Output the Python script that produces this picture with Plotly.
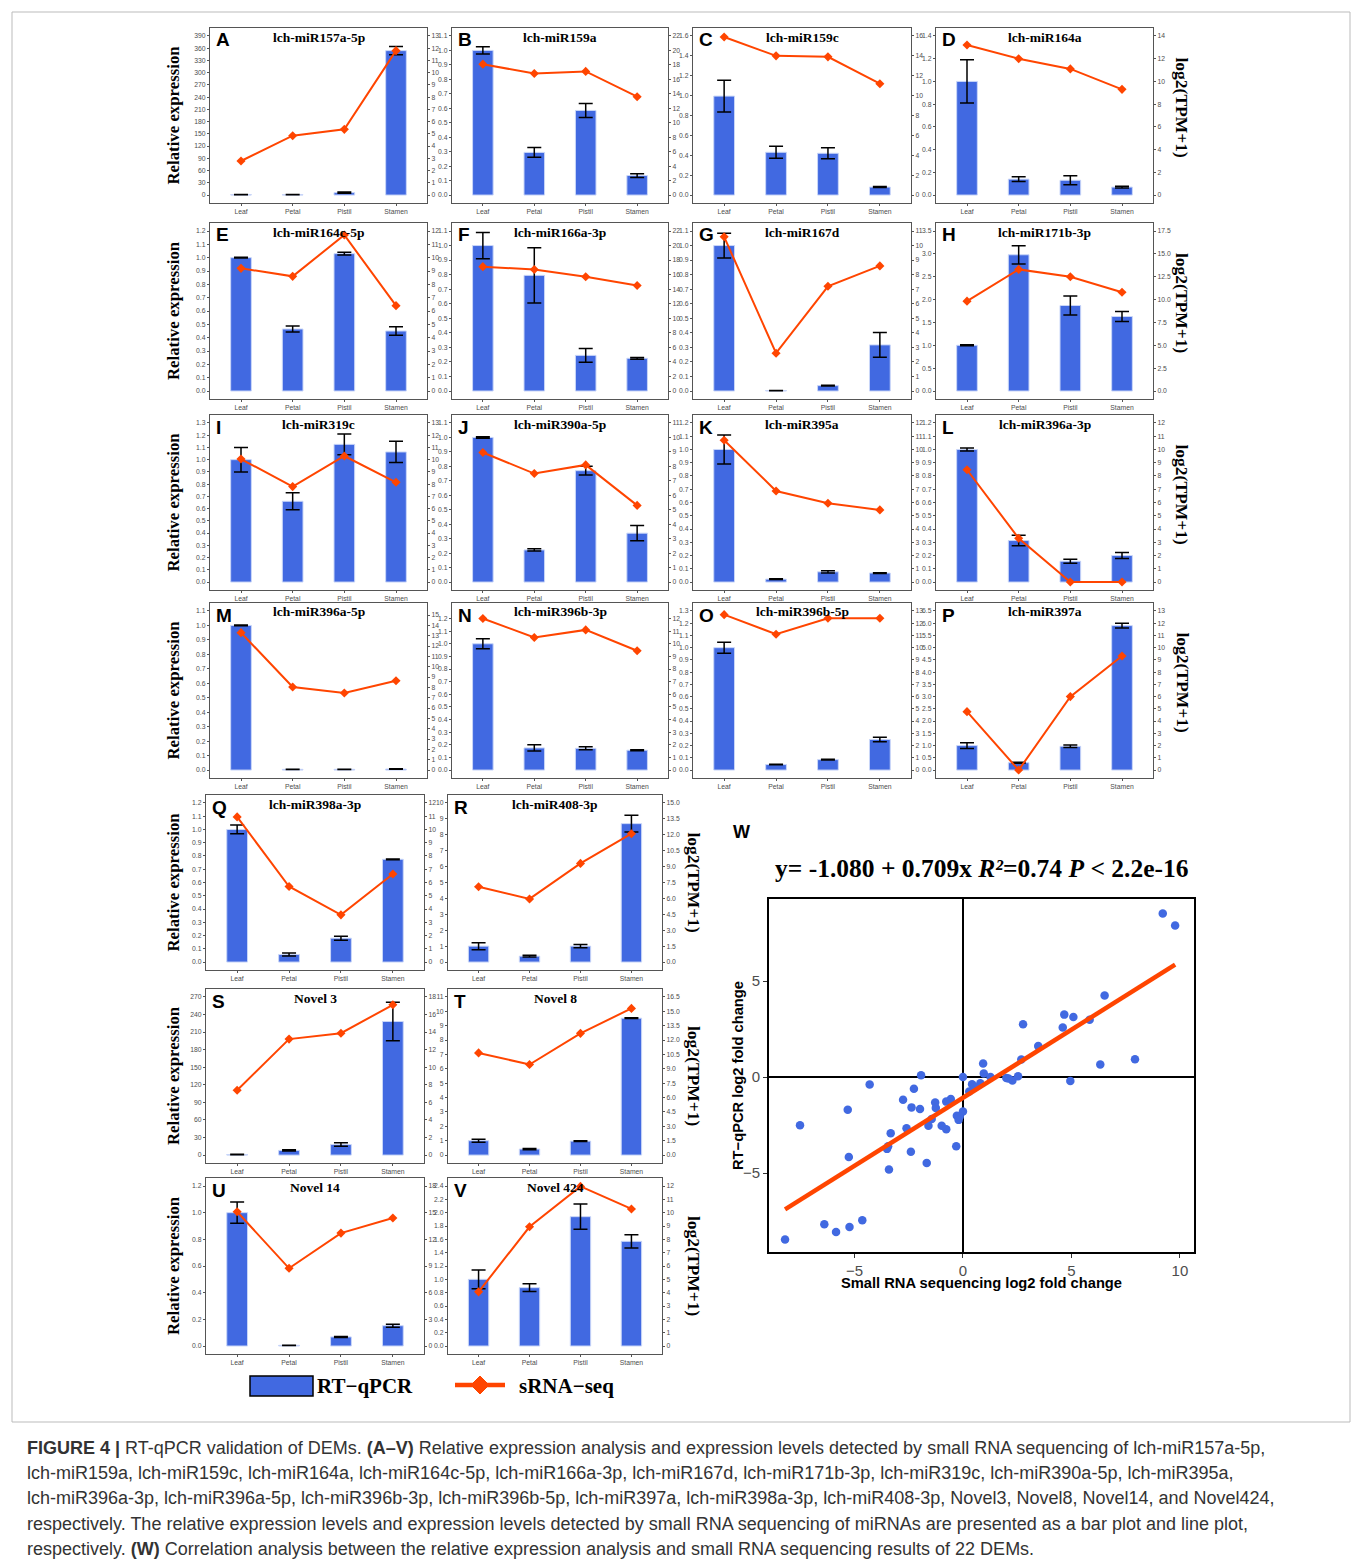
import numpy as np
import plotly.graph_objects as go

FIG_W, FIG_H = 1360, 1564


def px(x):
    return x / FIG_W


def py(y):
    return 1 - y / FIG_H


# ---------------------------------------------------------------- data
tissues = ["Leaf", "Petal", "Pistil", "Stamen"]

panel_letters = list("ABCDEFGHIJKLMNOPQRSTUV")
panel_titles = ["lch-miR157a-5p", "lch-miR159a", "lch-miR159c", "lch-miR164a",
                "lch-miR164c-5p", "lch-miR166a-3p", "lch-miR167d", "lch-miR171b-3p",
                "lch-miR319c", "lch-miR390a-5p", "lch-miR395a", "lch-miR396a-3p",
                "lch-miR396a-5p", "lch-miR396b-3p", "lch-miR396b-5p", "lch-miR397a",
                "lch-miR398a-3p", "lch-miR408-3p", "Novel 3", "Novel 8", "Novel 14", "Novel 424"]

# RT-qPCR relative expression (bars) and error bars
rtqpcr_mean = [
    [1.0, 1.0, 6.0, 354.0],
    [1.0, 0.295, 0.585, 0.135],
    [0.995, 0.43, 0.42, 0.08],
    [1.0, 0.14, 0.13, 0.07],
    [1.0, 0.465, 1.03, 0.45],
    [1.0, 0.795, 0.245, 0.225],
    [1.0, 0.003, 0.037, 0.317],
    [1.0, 2.98, 1.87, 1.63],
    [1.0, 0.66, 1.125, 1.063],
    [1.0, 0.222, 0.77, 0.338],
    [1.0, 0.022, 0.077, 0.068],
    [1.0, 0.313, 0.157, 0.20],
    [1.0, 0.005, 0.005, 0.007],
    [1.0, 0.175, 0.172, 0.157],
    [1.0, 0.045, 0.085, 0.25],
    [1.0, 0.30, 0.97, 5.9],
    [1.0, 0.057, 0.18, 0.775],
    [1.0, 0.37, 1.0, 8.7],
    [1.0, 8.0, 18.0, 228.0],
    [1.0, 0.42, 0.97, 9.52],
    [1.0, 0.005, 0.068, 0.152],
    [1.0, 0.875, 1.94, 1.57],
]
rtqpcr_err = [
    [0.5, 0.5, 1.5, 10.0],
    [0.025, 0.033, 0.048, 0.013],
    [0.16, 0.06, 0.055, 0.005],
    [0.19, 0.02, 0.04, 0.007],
    [0.003, 0.022, 0.01, 0.032],
    [0.09, 0.19, 0.048, 0.006],
    [0.085, 0.001, 0.002, 0.085],
    [0.01, 0.2, 0.21, 0.11],
    [0.1, 0.07, 0.085, 0.087],
    [0.005, 0.008, 0.03, 0.053],
    [0.11, 0.003, 0.008, 0.003],
    [0.012, 0.04, 0.015, 0.022],
    [0.003, 0.001, 0.001, 0.002],
    [0.04, 0.025, 0.012, 0.004],
    [0.045, 0.002, 0.003, 0.018],
    [0.12, 0.02, 0.05, 0.1],
    [0.033, 0.012, 0.015, 0.003],
    [0.22, 0.06, 0.1, 0.52],
    [0.5, 1.0, 3.0, 33.0],
    [0.1, 0.04, 0.02, 0.03],
    [0.08, 0.001, 0.004, 0.012],
    [0.14, 0.058, 0.19, 0.1],
]
# sRNA-seq log2(TPM+1) (lines)
srnaseq_log2tpm = [
    [2.78, 4.85, 5.37, 11.8],
    [18.1, 16.8, 17.1, 13.6],
    [15.9, 14.0, 13.9, 11.2],
    [13.2, 12.0, 11.1, 9.3],
    [9.2, 8.6, 11.7, 6.4],
    [17.1, 16.7, 15.7, 14.5],
    [10.6, 2.6, 7.2, 8.6],
    [9.83, 13.3, 12.5, 10.8],
    [10.05, 7.8, 10.3, 8.15],
    [8.96, 7.5, 8.1, 5.3],
    [10.7, 6.87, 5.94, 5.44],
    [8.47, 3.3, 0.0, 0.0],
    [13.3, 8.04, 7.46, 8.65],
    [12.0, 10.5, 11.1, 9.45],
    [12.7, 11.1, 12.4, 12.4],
    [4.77, 0.0, 6.0, 9.32],
    [10.95, 5.7, 3.56, 6.64],
    [7.1, 5.95, 9.3, 12.1],
    [7.37, 13.2, 13.87, 17.1],
    [10.66, 9.45, 12.7, 15.3],
    [15.1, 8.74, 12.7, 14.4],
    [4.06, 8.94, 11.97, 10.28],
]

# axis tick definitions
left_tick_top = [390, 1.1, 1.6, 1.4, 1.2, 1.1, 1.1, 3.5, 1.3, 1.1, 1.2, 1.2,
                 1.1, 1.2, 1.3, 6.5, 1.2, 10, 270, 11, 1.2, 2.4]
left_tick_step = [30, 0.1, 0.2, 0.2, 0.1, 0.1, 0.1, 0.5, 0.1, 0.1, 0.1, 0.1,
                  0.1, 0.1, 0.1, 0.5, 0.1, 1, 30, 1, 0.2, 0.2]
left_range_max = [390, 1.1, 1.6, 1.4, 1.2, 1.1, 1.1, 3.5, 1.3, 1.1, 1.2, 1.2,
                  1.1, 1.26, 1.3, 6.5, 1.2, 10, 270, 11, 1.2, 2.4]
right_tick_top = [13, 22, 16, 14, 12, 22, 11, 17.5, 13, 11, 12, 12,
                  15, 12, 13, 13, 12, 15, 18, 16.5, 18, 12]
right_tick_step = [1, 2, 2, 2, 1, 2, 1, 2.5, 1, 1, 1, 1,
                   1, 1, 1, 1, 1, 1.5, 2, 1.5, 3, 1]
right_per_left = [1 / 30, 20, 10, 10, 10, 20, 10, 5, 10, 10, 10, 10,
                  14, 10, 10, 2, 10, 1.5, 1 / 15, 1.5, 15, 5]

# panel W: log2 fold changes
scatter_x = [9.21, 9.78, 6.53, 4.67, 5.09, 5.84, 4.60, 2.77, 3.47, 2.69, 7.93, 6.33,
             0.93, 0.96, 1.27, 2.00, 2.28, 2.54, 4.95, 0.00, 0.80, 0.42, 0.29, 0.00,
             -0.28, -0.20, -0.31, -0.56, -0.77, -1.28, -1.25, -0.98, -0.77, -1.44,
             -1.59, -1.98, -1.93, -2.26, -2.37, -2.76, -2.60, -2.40, -1.67, -3.33,
             -3.50, -3.41, -4.30, -5.31, -5.26, -7.51, -4.64, -5.23, -5.85, -6.39,
             -8.20, -0.15, 2.10, -3.45, 0.55]
scatter_y = [8.51, 7.89, 4.25, 3.25, 3.12, 2.98, 2.58, 2.75, 1.61, 0.91, 0.93, 0.65,
             0.70, 0.18, 0.00, -0.05, -0.18, 0.04, -0.21, 0.00, -0.32, -0.37, -0.75,
             -1.79, -2.02, -2.23, -3.60, -1.14, -1.28, -1.32, -1.61, -2.54, -2.72,
             -2.19, -2.54, -1.67, 0.09, -0.61, -1.58, -1.18, -2.67, -3.89, -4.47,
             -2.93, -3.74, -4.82, -0.39, -1.70, -4.16, -2.51, -7.46, -7.81, -8.07,
             -7.67, -8.46, -2.05, -0.08, -3.60, -0.55]
fit_intercept = -1.080
fit_slope = 0.709
w_xticks = [-5, 0, 5, 10]
w_yticks = [-5, 0, 5]

# ---------------------------------------------------------------- geometry / style
col_x_top = [(210, 427), (452, 668), (693, 911), (936, 1153)]
col_x_low = [(206, 424), (448, 662)]
row_y = [(28, 203), (223, 399), (415, 590), (603, 778), (795, 970), (989, 1163), (1178, 1354)]

BLUE = "#4169E1"
ORANGE = "#FF4500"
AXC = "#555555"
SANS = "Liberation Sans, Arial, sans-serif"
SERIF = "Liberation Serif, Times New Roman, serif"
tick_font = dict(family=SANS, size=6.8, color="#4d4d4d")


def panel_box(i):
    if i < 16:
        r, c = divmod(i, 4)
        x0, x1 = col_x_top[c]
    else:
        r, c = divmod(i - 16, 2)
        r += 4
        x0, x1 = col_x_low[c]
    y0, y1 = row_y[r]
    return x0, x1, y0, y1


def ticks(top, step):
    vals = [round(v, 6) for v in np.arange(0, top + step / 2, step)]
    if float(step).is_integer():
        txt = ["%d" % round(v) for v in vals]
    else:
        txt = ["%.1f" % v for v in vals]
    return vals, txt


fig = go.Figure()
layout = {}
annotations = []
shapes = []

for i in range(22):
    x0, x1, y0, y1 = panel_box(i)
    n = i + 1
    xa = "x" if n == 1 else f"x{n}"
    ya = "y" if n == 1 else f"y{n}"
    m2 = 23 + i
    ya2 = f"y{m2}"
    top = left_range_max[i]
    lrange = [-0.05 * top, 1.05 * top]
    rrange = [v * right_per_left[i] for v in lrange]

    fig.add_trace(go.Bar(
        x=tissues, y=rtqpcr_mean[i],
        error_y=dict(type="data", array=rtqpcr_err[i], visible=True, color="black",
                     thickness=1.5, width=7),
        width=0.4, marker=dict(color=BLUE, line=dict(color="#c9d6f8", width=1)),
        xaxis=xa, yaxis=ya, showlegend=False))
    fig.add_trace(go.Scatter(
        x=tissues, y=srnaseq_log2tpm[i], mode="lines+markers",
        line=dict(color=ORANGE, width=2),
        marker=dict(symbol="diamond", size=7, color=ORANGE),
        xaxis=xa, yaxis=ya2, showlegend=False, cliponaxis=False))

    lv, lt = ticks(left_tick_top[i], left_tick_step[i])
    rv, rt = ticks(right_tick_top[i], right_tick_step[i])
    layout["xaxis" if n == 1 else f"xaxis{n}"] = dict(
        domain=[px(x0), px(x1)], anchor=ya, type="category", range=[-0.6, 3.6],
        showline=True, mirror=True, linecolor=AXC, linewidth=1.2,
        ticks="outside", ticklen=2, tickcolor=AXC, tickfont=tick_font,
        showgrid=False, zeroline=False)
    layout["yaxis" if n == 1 else f"yaxis{n}"] = dict(
        domain=[py(y1), py(y0)], anchor=xa, range=lrange,
        tickmode="array", tickvals=lv, ticktext=lt,
        showline=True, mirror=True, linecolor=AXC, linewidth=1.2,
        ticks="outside", ticklen=2, tickcolor=AXC, tickfont=tick_font,
        showgrid=False, zeroline=False)
    layout[f"yaxis{m2}"] = dict(
        overlaying=ya, side="right", anchor=xa, range=rrange,
        tickmode="array", tickvals=rv, ticktext=rt,
        showline=True, linecolor=AXC, linewidth=1.2,
        ticks="outside", ticklen=2, tickcolor=AXC, tickfont=tick_font,
        showgrid=False, zeroline=False)

    annotations.append(dict(x=px((x0 + x1) / 2), y=py(y0 + 9), xref="paper", yref="paper",
                            text=f"<b>{panel_titles[i]}</b>", showarrow=False,
                            xanchor="center", yanchor="middle",
                            font=dict(family=SERIF, size=13.5, color="black")))
    annotations.append(dict(x=px(x0 + 4), y=py(y0 + 12), xref="paper", yref="paper",
                            text=f"<b>{panel_letters[i]}</b>", showarrow=False,
                            xanchor="left", yanchor="middle",
                            font=dict(family=SANS, size=19, color="black")))

# row labels
for r, (y0, y1) in enumerate(row_y):
    yc = (y0 + y1) / 2
    annotations.append(dict(x=px(173), y=py(yc), xref="paper", yref="paper",
                            text="<b>Relative expression</b>", showarrow=False, textangle=-90,
                            xanchor="center", yanchor="middle",
                            font=dict(family=SERIF, size=16.8, color="black")))
    lx = 1182 if r < 4 else 694
    annotations.append(dict(x=px(lx), y=py(yc - 8 if r < 4 else yc), xref="paper", yref="paper",
                            text="<b>log2(TPM+1)</b>", showarrow=False, textangle=90,
                            xanchor="center", yanchor="middle",
                            font=dict(family=SERIF, size=17.5, color="black")))

# ---------------------------------------------------------------- panel W
wx0, wx1, wy0, wy1 = 769, 1194, 899, 1252
fig.add_trace(go.Scatter(x=scatter_x, y=scatter_y, mode="markers",
                         marker=dict(color=BLUE, size=8.5),
                         xaxis="x23", yaxis="y45", showlegend=False))
fx = [min(scatter_x), max(scatter_x)]
fig.add_trace(go.Scatter(x=fx, y=[fit_intercept + fit_slope * v for v in fx], mode="lines",
                         line=dict(color=ORANGE, width=4.5),
                         xaxis="x23", yaxis="y45", showlegend=False))
layout["xaxis23"] = dict(domain=[px(wx0), px(wx1)], anchor="y45", range=[-8.94, 10.65],
                         tickmode="array", tickvals=w_xticks,
                         showline=True, mirror=True, linecolor="black", linewidth=1.6,
                         ticks="outside", ticklen=4, tickcolor="#333",
                         tickfont=dict(family=SANS, size=15, color="#4d4d4d"),
                         showgrid=False, zeroline=True, zerolinecolor="black", zerolinewidth=1.6)
layout["yaxis45"] = dict(domain=[py(wy1), py(wy0)], anchor="x23", range=[-9.11, 9.27],
                         tickmode="array", tickvals=w_yticks,
                         showline=True, mirror=True, linecolor="black", linewidth=1.6,
                         ticks="outside", ticklen=4, tickcolor="#333",
                         tickfont=dict(family=SANS, size=15, color="#4d4d4d"),
                         showgrid=False, zeroline=True, zerolinecolor="black", zerolinewidth=1.6)

annotations += [
    dict(x=px(731), y=py(832), xref="paper", yref="paper", text="<b>W</b>", showarrow=False,
         xanchor="left", yanchor="middle", font=dict(family=SANS, size=18, color="black")),
    dict(x=px(982), y=py(868), xref="paper", yref="paper",
         text="<b>y= -1.080 + 0.709x <i>R²</i>=0.74 <i>P</i> &lt; 2.2e-16</b>", showarrow=False,
         xanchor="center", yanchor="middle", font=dict(family=SERIF, size=25.5, color="black")),
    dict(x=px(981), y=py(1283), xref="paper", yref="paper",
         text="<b>Small RNA sequencing log2 fold change</b>", showarrow=False,
         xanchor="center", yanchor="middle", font=dict(family=SANS, size=14.7, color="black")),
    dict(x=px(738), y=py(1076), xref="paper", yref="paper",
         text="<b>RT−qPCR log2 fold change</b>", showarrow=False, textangle=-90,
         xanchor="center", yanchor="middle", font=dict(family=SANS, size=14.7, color="black")),
]

# ---------------------------------------------------------------- legend
shapes.append(dict(type="rect", xref="paper", yref="paper",
                   x0=px(250), x1=px(313), y0=py(1396), y1=py(1376),
                   fillcolor=BLUE, line=dict(color="black", width=1.5)))
shapes.append(dict(type="line", xref="paper", yref="paper",
                   x0=px(455), x1=px(505), y0=py(1385), y1=py(1385),
                   line=dict(color=ORANGE, width=4.5)))
shapes.append(dict(type="path", xref="paper", yref="paper",
                   path=f"M {px(480)} {py(1376)} L {px(489)} {py(1385)} L {px(480)} {py(1394)} "
                        f"L {px(471)} {py(1385)} Z",
                   fillcolor=ORANGE, line=dict(color=ORANGE, width=1)))
annotations += [
    dict(x=px(315), y=py(1386), xref="paper", yref="paper", text="<b>RT−qPCR</b>", showarrow=False,
         xanchor="left", yanchor="middle", font=dict(family=SERIF, size=21, color="black")),
    dict(x=px(517), y=py(1386), xref="paper", yref="paper", text="<b>sRNA−seq</b>", showarrow=False,
         xanchor="left", yanchor="middle", font=dict(family=SERIF, size=21, color="black")),
]

# ---------------------------------------------------------------- frame + caption
shapes.append(dict(type="rect", xref="paper", yref="paper",
                   x0=px(12), x1=px(1350), y0=py(1422), y1=py(12),
                   line=dict(color="#bbbbbb", width=1), fillcolor="rgba(0,0,0,0)", layer="below"))

caption_lines = [
    "<b>FIGURE 4 |</b> RT-qPCR validation of DEMs. <b>(A–V)</b> Relative expression analysis and expression levels detected by small RNA sequencing of lch-miR157a-5p,",
    "lch-miR159a, lch-miR159c, lch-miR164a, lch-miR164c-5p, lch-miR166a-3p, lch-miR167d, lch-miR171b-3p, lch-miR319c, lch-miR390a-5p, lch-miR395a,",
    "lch-miR396a-3p, lch-miR396a-5p, lch-miR396b-3p, lch-miR396b-5p, lch-miR397a, lch-miR398a-3p, lch-miR408-3p, Novel3, Novel8, Novel14, and Novel424,",
    "respectively. The relative expression levels and expression levels detected by small RNA sequencing of miRNAs are presented as a bar plot and line plot,",
    "respectively. <b>(W)</b> Correlation analysis between the relative expression analysis and small RNA sequencing results of 22 DEMs.",
]
for k, line in enumerate(caption_lines):
    annotations.append(dict(x=px(25), y=py(1448 + 25.2 * k), xref="paper", yref="paper",
                            text=line, showarrow=False, xanchor="left", yanchor="middle",
                            font=dict(family=SANS, size=18, color="#333333")))

fig.update_layout(
    width=FIG_W, height=FIG_H, autosize=False,
    margin=dict(l=0, r=0, t=0, b=0),
    paper_bgcolor="white", plot_bgcolor="white",
    showlegend=False, bargap=0.6,
    annotations=annotations, shapes=shapes,
    **layout)

fig.write_html("out.html",
               config={"displayModeBar": False},
               post_script="document.body.style.margin='0px';"
                           "document.body.style.padding='0px';"
                           "document.body.style.overflow='hidden';")
